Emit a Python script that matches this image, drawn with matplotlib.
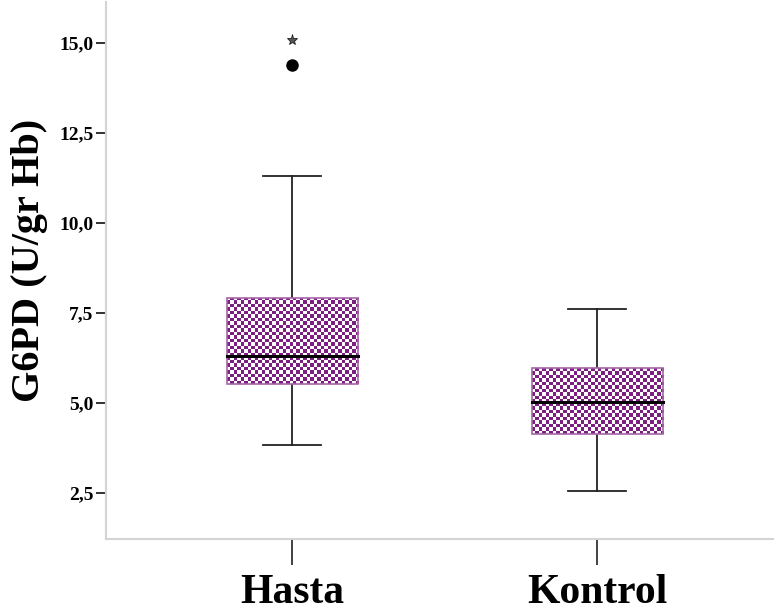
import numpy as np
import matplotlib.pyplot as plt
from matplotlib.colors import ListedColormap
from matplotlib.patches import Rectangle

groups = ['Hasta', 'Kontrol']
q1 = [5.53, 4.14]
medians = [6.31, 5.03]
q3 = [7.92, 5.97]
whis_low = [3.83, 2.56]
whis_high = [11.31, 7.61]
outliers = [14.39]      # circle, Hasta
extremes = [15.08]      # star, Hasta
yticks = [2.5, 5.0, 7.5, 10.0, 12.5, 15.0]
ytick_labels = ['2,5', '5,0', '7,5', '10,0', '12,5', '15,0']

purple = '#7d1f80'
edge = '#a466a8'
serif = ['Liberation Serif', 'DejaVu Serif']

fig = plt.figure(figsize=(7.74, 6.14), dpi=100)
ax = fig.add_axes([0.137, 0.122, 0.863, 0.875])

positions = [1, 2]
width = 0.43
cap = 0.19

# checkerboard fill for the boxes
cell = 3.5  # pixels
for i, pos in enumerate(positions):
    x0, x1 = pos - width / 2, pos + width / 2
    rect = Rectangle((x0, q1[i]), width, q3[i] - q1[i], facecolor='none',
                     edgecolor=edge, lw=1.2, zorder=3)
    ax.add_patch(rect)
    nx = int(131 / cell) + 1
    ny = int((q3[i] - q1[i]) * 36 / cell) + 1
    board = (np.add.outer(np.arange(ny), np.arange(nx)) % 2).astype(float)
    im = ax.imshow(board, cmap=ListedColormap(['white', purple]),
                   extent=(x0, x1, q1[i], q3[i]), aspect='auto', interpolation='nearest',
                   zorder=2)
    im.set_clip_path(rect)
    # median
    ax.plot([x0, x1], [medians[i]] * 2, color='black', lw=2.2, zorder=4)
    # whiskers
    ax.plot([pos, pos], [q3[i], whis_high[i]], color='#222222', lw=1.3, zorder=1)
    ax.plot([pos, pos], [whis_low[i], q1[i]], color='#222222', lw=1.3, zorder=1)
    ax.plot([pos - cap / 2, pos + cap / 2], [whis_high[i]] * 2, color='#222222', lw=1.3)
    ax.plot([pos - cap / 2, pos + cap / 2], [whis_low[i]] * 2, color='#222222', lw=1.3)

ax.plot([positions[0]] * len(outliers), outliers, 'o', color='black', ms=8)
ax.plot([positions[0]] * len(extremes), extremes, '*', ms=8,
        mfc='#555555', mec='#222222', mew=0.6)

ax.set_xlim(0.39, 2.58)
ax.set_ylim(1.22, 16.14)

ax.set_xticks(positions)
ax.set_xticklabels(groups, fontfamily=serif, fontweight='bold', fontsize=30)
ax.set_yticks(yticks)
ax.set_yticklabels(ytick_labels, fontfamily=serif, fontweight='bold', fontsize=14)
ax.tick_params(axis='x', length=19, width=1.3, color='#333333', pad=6)
ax.tick_params(axis='y', length=7, width=1.3, color='#222222', pad=2)

for s in ['top', 'right']:
    ax.spines[s].set_visible(False)
for s in ['left', 'bottom']:
    ax.spines[s].set_color('#d4d4d4')
    ax.spines[s].set_linewidth(1.5)

fig.text(30 / 774, 1 - 260 / 614, 'G6PD (U/gr Hb)', rotation=90, ha='center',
         va='center', fontfamily=serif, fontweight='bold', fontsize=29)

fig.savefig('out.png', dpi=100)
